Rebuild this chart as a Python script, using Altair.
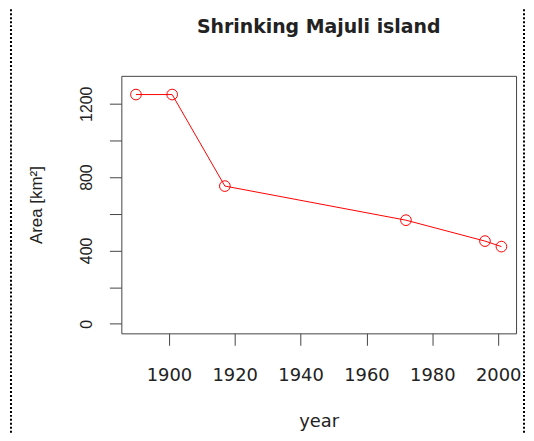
import altair as alt
import pandas as pd

# Data
years = [1890, 1901, 1917, 1972, 1996, 2001]
area_km2 = [1250, 1250, 751, 565, 451, 421]
x_tick_values = [1900, 1920, 1940, 1960, 1980, 2000]
y_tick_values = [0, 200, 400, 600, 800, 1000, 1200]
y_labeled_values = [0, 400, 800, 1200]
chart_title = ["Shrinking Majuli island"]

PLOT_W, PLOT_H = 397, 259

df = pd.DataFrame({"year": years, "area": area_km2})

x_enc = alt.X(
    "year:Q",
    scale=alt.Scale(domain=[1885.56, 2005.44], nice=False, zero=False),
    axis=alt.Axis(
        values=x_tick_values, format="d", title="year",
        domain=False, grid=False, tickSize=12, tickColor="#444", tickWidth=1,
        labelFont="DejaVu Sans", labelFontSize=18, labelColor="#222",
        labelPadding=35, labelBaseline="alphabetic", labelFlush=False,
        labelOverlap=False,
        titleFont="DejaVu Sans", titleFontSize=18, titleFontWeight="normal",
        titleBaseline="alphabetic", titleY=94, titleColor="#222",
    ),
)

label_expr = (
    "indexof([" + ",".join(str(v) for v in y_labeled_values)
    + "], datum.value) >= 0 ? datum.label : ''"
)

y_enc = alt.Y(
    "area:Q",
    scale=alt.Scale(domain=[-52, 1352], nice=False, zero=False),
    axis=alt.Axis(
        values=y_tick_values, format="d", title="Area [km²]",
        labelExpr=label_expr,
        domain=False, grid=False, tickSize=12, tickColor="#444", tickWidth=1,
        labelFont="Liberation Sans", labelFontSize=16, labelColor="#222",
        labelAngle=-90, labelAlign="center", labelBaseline="alphabetic",
        labelPadding=18, labelFlush=False, labelOverlap=False,
        titleFont="Liberation Sans", titleFontSize=17, titleFontWeight="normal",
        titleAngle=-90, titleBaseline="alphabetic", titleX=-80, titleColor="#222",
    ),
)

base = alt.Chart(df)
line = base.mark_line(color="red", strokeWidth=1).encode(x=x_enc, y=y_enc)
points = base.mark_point(
    shape="circle", filled=False, color="red", size=115, strokeWidth=1, opacity=1
).encode(x=x_enc, y=y_enc)

# chart title as a text mark centred over the plot
title_df = pd.DataFrame({"t": chart_title})
title_mark = alt.Chart(title_df).mark_text(
    font="DejaVu Sans", fontSize=19, fontWeight="bold", color="#222",
    align="center", baseline="alphabetic",
).encode(text="t:N", x=alt.value(PLOT_W / 2), y=alt.value(-43))

# decorative dotted page border (left / right)
border_df = pd.DataFrame({"k": [0]})
left_border = alt.Chart(border_df).mark_rule(
    color="black", strokeWidth=2, strokeDash=[2, 2]
).encode(x=alt.value(-111), y=alt.value(-75), y2=alt.value(366))
right_border = alt.Chart(border_df).mark_rule(
    color="black", strokeWidth=2, strokeDash=[2, 2]
).encode(x=alt.value(405), y=alt.value(-75), y2=alt.value(366))

chart = alt.layer(line, points, title_mark, left_border, right_border).properties(
    width=PLOT_W,
    height=PLOT_H,
    autosize="none",
    background="white",
    padding={"left": 114, "top": 67, "right": 10, "bottom": 100},
).configure_view(stroke="#444", strokeWidth=1)

chart.save("out.html", embed_options={"renderer": "svg", "actions": False})
